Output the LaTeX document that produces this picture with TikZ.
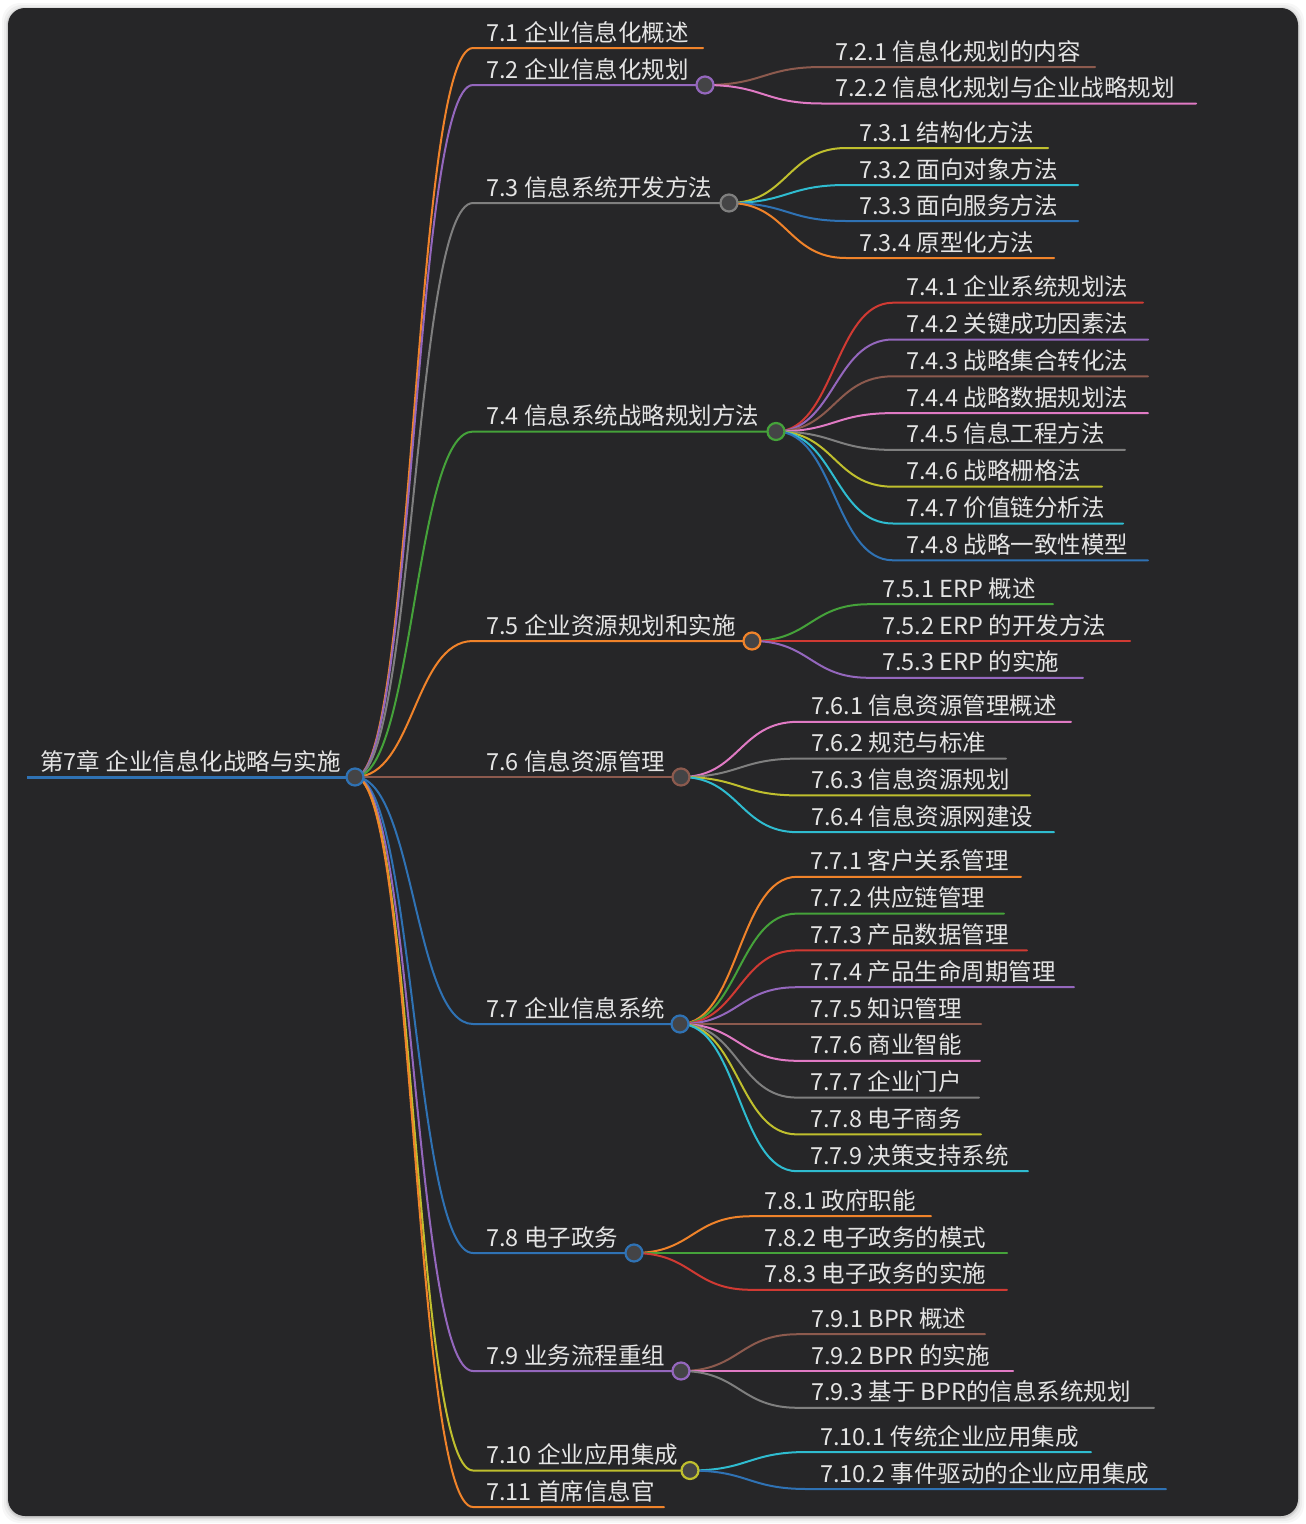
\documentclass[tikz,border=0pt]{standalone}
\usepackage{fontspec}
\setmainfont{Noto Sans CJK SC}
\usetikzlibrary{calc}
\definecolor{bg}{HTML}{262628}
\definecolor{txt}{HTML}{E4E4E4}
\definecolor{dotfill}{HTML}{444446}
\definecolor{cBlue}{HTML}{2F72B4}
\definecolor{cOrange}{HTML}{F0832A}
\definecolor{cGreen}{HTML}{45A23A}
\definecolor{cRed}{HTML}{D03A33}
\definecolor{cPurple}{HTML}{9467BD}
\definecolor{cBrown}{HTML}{8C5A4E}
\definecolor{cPink}{HTML}{E07AC4}
\definecolor{cGray}{HTML}{7F7F7F}
\definecolor{cOlive}{HTML}{BFBF2E}
\definecolor{cCyan}{HTML}{2FBCD0}
\tikzset{
  lbl/.style={anchor=base west, inner sep=0pt, text=txt, font=\fontsize{23.5}{28}\selectfont},
  branch/.style={line width=2pt, line cap=round},
  rootline/.style={line width=3pt, cBlue},
  dot/.style={circle, draw=#1, fill=dotfill, line width=2.2pt, minimum size=17pt, inner sep=0pt},
}
% name, parent, colour, y, xstart, xend, text
\newcommand\mmkid[7]{%
  \coordinate (#1s) at (#5,#4);
  \coordinate (#1e) at (#6,#4);
  \node[lbl] (#1) at ([shift={(13pt,7pt)}]#1s) {#7};
  \draw[branch,#3] let \p1=(#2e), \p2=(#1s) in
    (\p1) .. controls ({(\x1+\x2)/2},\y1) and ({(\x1+\x2)/2},\y2) .. (\p2) -- (#1e);
}
\begin{document}
\begin{tikzpicture}[x=1pt,y=-1pt]
\useasboundingbox (0,0) rectangle (1306,1524);
\fill[white] (0,0) rectangle (1306,1524);
\foreach \k/\o in {6/0.03,4/0.04,2/0.06,1/0.08}
  \fill[black,opacity=\o,rounded corners=18] (8-\k,8-\k+1) rectangle (1298+\k,1516+\k+1);
\fill[bg,rounded corners=17] (8,8) rectangle (1298,1516);

% root
\coordinate (roots) at (27,777);
\coordinate (roote) at (355,777);
\node[lbl] (root) at (40,770) {第7章 企业信息化战略与实施};
\draw[rootline] (roots) -- (roote);

% level 1
\mmkid{n1}{root}{cOrange}{48}{473}{703}{7.1 企业信息化概述}
\mmkid{n2}{root}{cPurple}{85}{473}{705}{7.2 企业信息化规划}
\mmkid{n3}{root}{cGray}{203}{473}{729}{7.3 信息系统开发方法}
\mmkid{n4}{root}{cGreen}{431.5}{473}{776}{7.4 信息系统战略规划方法}
\mmkid{n5}{root}{cOrange}{641}{473}{752}{7.5 企业资源规划和实施}
\mmkid{n6}{root}{cBrown}{777}{473}{681}{7.6 信息资源管理}
\mmkid{n7}{root}{cBlue}{1024}{473}{680}{7.7 企业信息系统}
\mmkid{n8}{root}{cBlue}{1253}{473}{634}{7.8 电子政务}
\mmkid{n9}{root}{cPurple}{1371}{473}{681}{7.9 业务流程重组}
\mmkid{n10}{root}{cOlive}{1470.5}{473}{690}{7.10 企业应用集成}
\mmkid{n11}{root}{cOrange}{1507}{473}{664}{7.11 首席信息官}

% 7.2
\mmkid{n2-1}{n2}{cBrown}{67}{822}{1095}{7.2.1 信息化规划的内容}
\mmkid{n2-2}{n2}{cPink}{103.5}{822}{1196}{7.2.2 信息化规划与企业战略规划}
% 7.3
\mmkid{n3-1}{n3}{cOlive}{148}{846}{1048}{7.3.1 结构化方法}
\mmkid{n3-2}{n3}{cCyan}{185}{846}{1078}{7.3.2 面向对象方法}
\mmkid{n3-3}{n3}{cBlue}{221}{846}{1078}{7.3.3 面向服务方法}
\mmkid{n3-4}{n3}{cOrange}{258}{846}{1054}{7.3.4 原型化方法}
% 7.4
\mmkid{n4-1}{n4}{cRed}{302.7}{893}{1143}{7.4.1 企业系统规划法}
\mmkid{n4-2}{n4}{cPurple}{339.5}{893}{1148}{7.4.2 关键成功因素法}
\mmkid{n4-3}{n4}{cBrown}{376.3}{893}{1148}{7.4.3 战略集合转化法}
\mmkid{n4-4}{n4}{cPink}{413.1}{893}{1148}{7.4.4 战略数据规划法}
\mmkid{n4-5}{n4}{cGray}{449.9}{893}{1125}{7.4.5 信息工程方法}
\mmkid{n4-6}{n4}{cOlive}{486.7}{893}{1102}{7.4.6 战略栅格法}
\mmkid{n4-7}{n4}{cCyan}{523.5}{893}{1123}{7.4.7 价值链分析法}
\mmkid{n4-8}{n4}{cBlue}{560.3}{893}{1148}{7.4.8 战略一致性模型}
% 7.5
\mmkid{n5-1}{n5}{cGreen}{604.2}{869}{1053}{7.5.1 ERP 概述}
\mmkid{n5-2}{n5}{cRed}{641}{869}{1130}{7.5.2 ERP 的开发方法}
\mmkid{n5-3}{n5}{cPurple}{677.8}{869}{1083}{7.5.3 ERP 的实施}
% 7.6
\mmkid{n6-1}{n6}{cPink}{721.8}{798}{1071}{7.6.1 信息资源管理概述}
\mmkid{n6-2}{n6}{cGray}{758.6}{798}{1006}{7.6.2 规范与标准}
\mmkid{n6-3}{n6}{cOlive}{795.4}{798}{1030}{7.6.3 信息资源规划}
\mmkid{n6-4}{n6}{cCyan}{832.2}{798}{1054}{7.6.4 信息资源网建设}
% 7.7
\mmkid{n7-1}{n7}{cOrange}{876.8}{797}{1021}{7.7.1 客户关系管理}
\mmkid{n7-2}{n7}{cGreen}{913.6}{797}{1004}{7.7.2 供应链管理}
\mmkid{n7-3}{n7}{cRed}{950.4}{797}{1027}{7.7.3 产品数据管理}
\mmkid{n7-4}{n7}{cPurple}{987.2}{797}{1074}{7.7.4 产品生命周期管理}
\mmkid{n7-5}{n7}{cBrown}{1024}{797}{981}{7.7.5 知识管理}
\mmkid{n7-6}{n7}{cPink}{1060.8}{797}{980}{7.7.6 商业智能}
\mmkid{n7-7}{n7}{cGray}{1097.6}{797}{979}{7.7.7 企业门户}
\mmkid{n7-8}{n7}{cOlive}{1134.4}{797}{981}{7.7.8 电子商务}
\mmkid{n7-9}{n7}{cCyan}{1171.2}{797}{1028}{7.7.9 决策支持系统}
% 7.8
\mmkid{n8-1}{n8}{cOrange}{1216.2}{751}{931}{7.8.1 政府职能}
\mmkid{n8-2}{n8}{cGreen}{1253}{751}{1007}{7.8.2 电子政务的模式}
\mmkid{n8-3}{n8}{cRed}{1289.8}{751}{1007}{7.8.3 电子政务的实施}
% 7.9
\mmkid{n9-1}{n9}{cBrown}{1334.2}{798}{985}{7.9.1 BPR 概述}
\mmkid{n9-2}{n9}{cPink}{1371}{798}{1013}{7.9.2 BPR 的实施}
\mmkid{n9-3}{n9}{cGray}{1407.8}{798}{1154}{7.9.3 基于 BPR的信息系统规划}
% 7.10
\mmkid{n10-1}{n10}{cCyan}{1452}{807}{1091}{7.10.1 传统企业应用集成}
\mmkid{n10-2}{n10}{cBlue}{1489}{807}{1166}{7.10.2 事件驱动的企业应用集成}

% junction dots
\foreach \n/\c in {root/cBlue,n2/cPurple,n3/cGray,n4/cGreen,n5/cOrange,n6/cBrown,n7/cBlue,n8/cBlue,n9/cPurple,n10/cOlive}
  \node[dot=\c] (\n dot) at (\n e) {};
\end{tikzpicture}
\end{document}
